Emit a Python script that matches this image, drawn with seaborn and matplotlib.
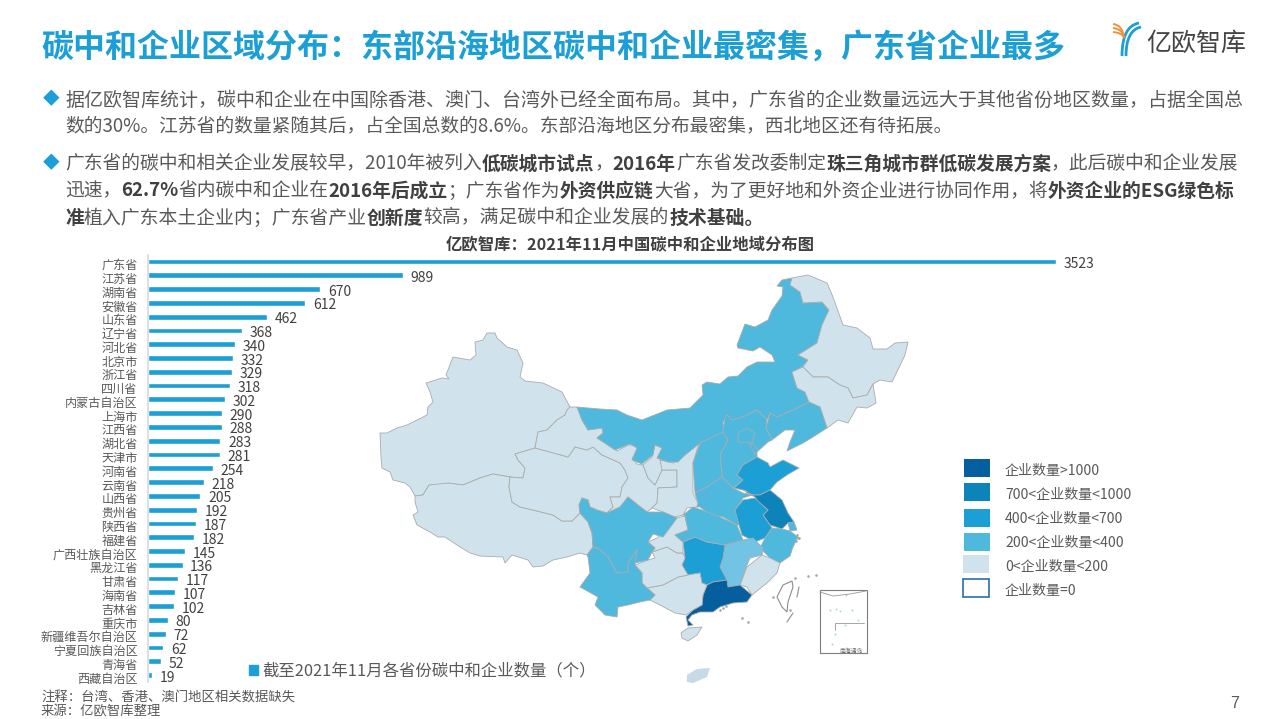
import seaborn as sns
import matplotlib.pyplot as plt
from matplotlib.font_manager import FontProperties
from matplotlib.patches import Patch, Polygon, Rectangle, PathPatch
from matplotlib.path import Path
from matplotlib.transforms import ScaledTranslation

regions = ["广东省", "江苏省", "湖南省", "安徽省", "山东省", "辽宁省", "河北省", "北京市", "浙江省", "四川省",
           "内蒙古自治区", "上海市", "江西省", "湖北省", "天津市", "河南省", "云南省", "山西省", "贵州省", "陕西省",
           "福建省", "广西壮族自治区", "黑龙江省", "甘肃省", "海南省", "吉林省", "重庆市", "新疆维吾尔自治区",
           "宁夏回族自治区", "青海省", "西藏自治区"]
counts = [3523, 989, 670, 612, 462, 368, 340, 332, 329, 318, 302, 290, 288, 283, 281, 254, 218, 205, 192, 187,
          182, 145, 136, 117, 107, 102, 80, 72, 62, 52, 19]

title = "碳中和企业区域分布：东部沿海地区碳中和企业最密集，广东省企业最多"
chart_title = "亿欧智库：2021年11月中国碳中和企业地域分布图"
series_name = "截至2021年11月各省份碳中和企业数量（个）"
notes = ["注释：台湾、香港、澳门地区相关数据缺失", "来源：亿欧智库整理"]

# (text, bold) runs, one list per line
body_lines = [
    [("据亿欧智库统计，碳中和企业在中国除香港、澳门、台湾外已经全面布局。其中，广东省的企业数量远远大于其他省份地区数量，占据全国总", False)],
    [("数的30%。江苏省的数量紧随其后，占全国总数的8.6%。东部沿海地区分布最密集，西北地区还有待拓展。", False)],
    [("广东省的碳中和相关企业发展较早，2010年被列入", False), ("低碳城市试点", True), ("，", False), ("2016年", True),
     ("广东省发改委制定", False), ("珠三角城市群低碳发展方案", True), ("，此后碳中和企业发展", False)],
    [("迅速，", False), ("62.7%", True), ("省内碳中和企业在", False), ("2016年后成立", True), ("；广东省作为", False),
     ("外资供应链", True), ("大省，为了更好地和外资企业进行协同作用，将", False), ("外资企业的ESG绿色标", True)],
    [("准", True), ("植入广东本土企业内；广东省产业", False), ("创新度", True), ("较高，满足碳中和企业发展的", False),
     ("技术基础。", True)],
]
body_sizes = [13.67, 13.5, 13.52, 13.5, 13.55]

legend_labels = ["企业数量>1000", "700<企业数量<1000", "400<企业数量<700", "200<企业数量<400", "0<企业数量<200", "企业数量=0"]
class_floor = [1000, 700, 400, 200, 0]
class_colors = ["#055F9E", "#0C84B9", "#1B9FD4", "#4FB9DD", "#D0E3EC"]

# province outlines (map units)
outlines = {
    "新疆维吾尔自治区": [(380, 433), (387, 433), (397, 428), (407, 425), (427, 415), (428, 407), (433, 402), (430, 392), (426, 383), (442, 378), (449, 379), (446, 375), (453, 357), (470, 360), (476, 355), (475, 342), (483, 340), (487, 333), (495, 333), (497, 338), (507, 347), (517, 350), (523, 363), (520, 377), (525, 381), (543, 383), (562, 392), (570, 407), (567, 410), (565, 415), (557, 420), (547, 430), (538, 432), (535, 448), (515, 454), (518, 460), (525, 468), (523, 478), (510, 477), (493, 474), (480, 478), (463, 485), (448, 483), (440, 486), (429, 485), (423, 495), (415, 496), (410, 487), (405, 483), (393, 480), (390, 472), (382, 468), (381, 457)],
    "西藏自治区": [(415, 496), (423, 495), (429, 485), (448, 483), (463, 485), (480, 478), (493, 474), (510, 477), (509, 487), (512, 502), (520, 507), (537, 511), (553, 515), (562, 521), (572, 521), (580, 513), (588, 522), (592, 533), (593, 547), (587, 555), (580, 553), (567, 557), (553, 560), (543, 566), (533, 567), (528, 560), (512, 555), (505, 563), (503, 557), (480, 556), (470, 553), (457, 545), (445, 537), (438, 537), (430, 532), (417, 525), (413, 515), (418, 512), (415, 502)],
    "青海省": [(515, 454), (535, 448), (550, 452), (568, 457), (575, 447), (587, 450), (593, 447), (602, 455), (620, 463), (625, 470), (628, 478), (622, 487), (620, 497), (610, 497), (613, 507), (607, 513), (597, 510), (590, 507), (588, 500), (582, 498), (579, 505), (580, 513), (572, 521), (562, 521), (553, 515), (537, 511), (520, 507), (512, 502), (509, 487), (510, 477), (523, 478), (525, 468), (518, 460)],
    "甘肃省": [(570, 407), (577, 407), (582, 420), (588, 430), (602, 428), (603, 433), (597, 438), (610, 445), (617, 451), (628, 445), (638, 445), (637, 452), (632, 458), (637, 464), (643, 465), (648, 478), (655, 485), (662, 470), (677, 470), (677, 487), (658, 488), (657, 503), (652, 508), (647, 512), (638, 505), (628, 497), (620, 507), (607, 513), (613, 507), (610, 497), (620, 497), (622, 487), (628, 478), (625, 470), (620, 463), (602, 455), (593, 447), (587, 450), (575, 447), (568, 457), (550, 452), (535, 448), (538, 432), (547, 430), (557, 420), (565, 415), (567, 410)],
    "宁夏回族自治区": [(643, 465), (652, 457), (655, 445), (662, 448), (660, 460), (667, 462), (667, 468), (662, 470), (655, 485), (648, 478)],
    "陕西省": [(660, 460), (673, 463), (678, 460), (685, 455), (699, 443), (693, 463), (693, 493), (698, 503), (697, 507), (687, 508), (683, 515), (675, 517), (663, 512), (652, 508), (657, 503), (658, 488), (677, 487), (677, 470), (662, 470)],
    "内蒙古自治区": [(577, 407), (600, 409), (617, 410), (627, 415), (642, 420), (667, 410), (690, 408), (703, 395), (702, 385), (707, 382), (720, 384), (728, 377), (738, 376), (747, 367), (757, 362), (775, 362), (772, 355), (760, 347), (753, 351), (738, 348), (737, 345), (745, 324), (755, 327), (768, 320), (772, 310), (782, 296), (783, 287), (777, 286), (782, 280), (792, 278), (790, 285), (800, 292), (803, 303), (822, 302), (829, 310), (822, 325), (817, 343), (798, 355), (808, 360), (802, 367), (792, 372), (797, 388), (805, 392), (809, 402), (793, 410), (777, 417), (770, 413), (767, 420), (757, 410), (743, 417), (732, 420), (727, 415), (723, 423), (725, 433), (700, 443), (685, 455), (678, 462), (668, 462), (657, 458), (662, 448), (655, 445), (653, 455), (642, 464), (632, 460), (637, 448), (630, 444), (615, 450), (600, 440), (597, 438), (603, 433), (602, 428), (588, 430), (582, 420)],
    "黑龙江省": [(792, 278), (808, 275), (827, 283), (833, 297), (843, 325), (857, 328), (870, 338), (873, 349), (887, 349), (895, 343), (908, 342), (905, 355), (892, 382), (880, 380), (873, 384), (867, 395), (853, 398), (848, 388), (840, 385), (828, 377), (813, 377), (803, 367), (808, 360), (798, 355), (817, 343), (822, 325), (829, 310), (822, 302), (803, 303), (800, 292), (790, 285)],
    "吉林省": [(803, 367), (813, 377), (828, 377), (840, 385), (848, 388), (853, 398), (867, 395), (873, 384), (876, 403), (867, 408), (857, 407), (848, 423), (838, 420), (827, 428), (820, 407), (809, 402), (805, 392), (797, 388), (792, 372)],
    "辽宁省": [(809, 402), (820, 407), (827, 428), (813, 437), (803, 443), (787, 451), (790, 442), (795, 430), (785, 430), (772, 440), (766, 428), (770, 413), (777, 417), (793, 410)],
    "河北省": [(725, 417), (727, 415), (732, 420), (743, 417), (757, 410), (767, 420), (766, 428), (772, 440), (768, 442), (757, 452), (757, 457), (743, 465), (737, 475), (743, 480), (733, 488), (722, 477), (720, 455), (728, 440), (723, 432)],
    "北京市": [(738, 433), (747, 428), (755, 433), (752, 443), (738, 442)],
    "天津市": [(752, 443), (758, 450), (755, 455), (750, 445)],
    "山西省": [(700, 443), (723, 432), (728, 440), (720, 455), (722, 477), (718, 483), (707, 487), (695, 493), (693, 463)],
    "河南省": [(695, 493), (707, 487), (722, 477), (733, 488), (743, 493), (752, 495), (743, 498), (740, 503), (735, 510), (742, 525), (737, 525), (723, 517), (710, 515), (700, 507), (697, 507), (698, 503)],
    "山东省": [(757, 457), (768, 463), (770, 467), (783, 460), (799, 468), (787, 475), (777, 482), (770, 490), (760, 495), (752, 495), (743, 490), (734, 488), (743, 480), (737, 475), (743, 465)],
    "江苏省": [(745, 490), (752, 495), (760, 495), (770, 490), (782, 500), (788, 513), (794, 522), (788, 523), (782, 529), (770, 525), (763, 515), (768, 510), (758, 502), (755, 497), (747, 493)],
    "上海市": [(788, 523), (794, 522), (797, 530), (790, 531)],
    "安徽省": [(743, 500), (755, 498), (759, 502), (768, 510), (763, 515), (770, 525), (772, 528), (765, 538), (755, 542), (742, 535), (739, 525), (735, 510)],
    "浙江省": [(772, 528), (782, 529), (790, 531), (798, 537), (793, 547), (790, 556), (780, 563), (770, 558), (760, 548), (765, 538)],
    "福建省": [(762, 555), (770, 558), (780, 563), (777, 573), (767, 583), (752, 595), (747, 587), (740, 585), (747, 567)],
    "江西省": [(725, 545), (743, 540), (753, 538), (763, 548), (762, 555), (750, 558), (745, 570), (740, 585), (728, 587), (727, 580), (720, 567), (723, 558)],
    "湖南省": [(683, 542), (695, 537), (707, 542), (725, 545), (723, 558), (720, 567), (727, 580), (713, 582), (707, 585), (702, 583), (700, 573), (688, 575), (682, 565), (685, 558)],
    "广东省": [(707, 585), (713, 582), (727, 580), (728, 587), (740, 585), (752, 595), (747, 602), (733, 603), (720, 607), (713, 612), (700, 612), (692, 615), (688, 620), (693, 625), (688, 626), (686, 617), (693, 610), (702, 605), (703, 595)],
    "广西壮族自治区": [(647, 588), (663, 585), (678, 577), (688, 575), (700, 573), (702, 583), (707, 585), (703, 595), (702, 605), (693, 610), (686, 615), (675, 613), (660, 605), (650, 600), (655, 595)],
    "贵州省": [(635, 565), (648, 560), (655, 558), (652, 552), (667, 547), (677, 553), (683, 553), (685, 558), (682, 565), (688, 575), (678, 577), (663, 585), (647, 588), (642, 583), (642, 573)],
    "重庆市": [(648, 542), (657, 538), (667, 528), (677, 518), (685, 516), (688, 530), (675, 535), (683, 542), (683, 553), (677, 553), (667, 547), (652, 552), (655, 548)],
    "湖北省": [(675, 535), (688, 530), (685, 516), (683, 515), (693, 507), (702, 510), (720, 517), (737, 525), (743, 540), (725, 545), (707, 542), (695, 537), (683, 542)],
    "四川省": [(582, 498), (588, 500), (590, 507), (597, 510), (607, 513), (620, 507), (628, 497), (638, 505), (647, 512), (663, 512), (677, 518), (672, 525), (663, 537), (653, 534), (648, 542), (655, 548), (652, 552), (648, 560), (635, 563), (637, 550), (628, 563), (628, 572), (617, 573), (608, 557), (598, 548), (593, 547), (592, 533), (588, 522), (580, 513), (579, 505)],
    "云南省": [(587, 555), (593, 547), (598, 548), (608, 557), (617, 573), (628, 572), (628, 563), (637, 550), (635, 565), (642, 573), (642, 583), (647, 588), (655, 595), (650, 600), (640, 602), (628, 605), (618, 607), (617, 617), (605, 615), (595, 605), (598, 597), (580, 587), (590, 573), (588, 557)],
    "海南省": [(681, 633), (688, 628), (702, 627), (697, 635), (688, 641), (682, 638)],
}
second_island = [(687, 675), (697, 669), (710, 668), (707, 677), (693, 683), (687, 682)]
taiwan = [(783, 585), (792, 581), (793, 587), (788, 602), (787, 612), (782, 607), (777, 597)]
small_islands_x = [797, 799, 796, 798, 723, 726, 720, 742, 748, 773, 790, 795, 808, 816]
small_islands_y = [535, 538, 541, 538, 608, 606, 610, 618, 622, 597, 610, 578, 576, 575]
sea_dashes = [[(799, 587), (797, 597)], [(787, 622), (793, 613)]]

# pixel size of the source slide, used by the overlay and for the bar panel
FIG_W, FIG_H = 1279, 719
BLUE = "#1B9FD4"
GREY = "#595959"
DARK = "#404040"

sns.set_theme(style="white")
plt.rcParams["font.family"] = ["Noto Sans CJK SC", "DejaVu Sans"]
plt.rcParams["axes.unicode_minus"] = False

fig = plt.figure(figsize=(FIG_W / 100, FIG_H / 100), dpi=100, facecolor="white")
page = fig.add_axes([0, 0, 1, 1])
page.set_xlim(0, FIG_W)
page.set_ylim(FIG_H, 0)
page.axis("off")

renderer = fig.canvas.get_renderer()


def run_width(text, size, bold):
    # measuring against a trailing glyph keeps the advance of end punctuation
    fp = FontProperties(family="Noto Sans CJK SC", size=size, weight="bold" if bold else "normal")
    full = renderer.get_text_width_height_descent(text + "中", fp, False)[0]
    tail = renderer.get_text_width_height_descent("中", fp, False)[0]
    return full - tail


def draw_runs(x, y, runs, size):
    for text, bold in runs:
        page.text(x, y, text, fontsize=size, fontweight="bold" if bold else "normal",
                  color=DARK if bold else GREY, va="center", ha="left")
        x += run_width(text, size, bold)


page.text(41, 48, title, fontsize=23, fontweight="bold", color=BLUE, va="center", ha="left")

for bullet_y in [100, 164]:
    page.text(51, bullet_y, "◆", fontsize=12, color=BLUE, va="center", ha="center")
for line, line_y, line_size in zip(body_lines, [100, 126, 164, 191, 218], body_sizes):
    draw_runs(65, line_y, line, line_size)

page.text(630, 244, chart_title, fontsize=11.75, fontweight="bold", color=DARK, va="center", ha="center")

# logo
stem = Path([(1126, 56), (1126, 30), (1141, 27)], [Path.MOVETO, Path.CURVE3, Path.CURVE3])
stem2 = Path([(1122, 56), (1122, 26), (1139, 23)], [Path.MOVETO, Path.CURVE3, Path.CURVE3])
for arc in [stem, stem2]:
    page.add_patch(PathPatch(arc, fc="none", ec=BLUE, lw=2))
for dy in [0, 4, 8]:
    arc = Path([(1113, 24 + dy), (1123, 25 + dy), (1124, 38)], [Path.MOVETO, Path.CURVE3, Path.CURVE3])
    page.add_patch(PathPatch(arc, fc="none", ec="#F0923B", lw=1.4))
page.text(1196, 44, "亿欧智库", fontsize=18, color="#444444", va="center", ha="center")


# map
def class_color(n):
    for floor, color in zip(class_floor, class_colors):
        if n >= floor:
            return color
    return "white"


count_by_region = dict(zip(regions, counts))
for name, outline in outlines.items():
    color = "#73C4E4" if name == "江西省" else class_color(count_by_region[name])
    page.add_patch(Polygon(outline, closed=True, fc=color, ec="#ABABAB", lw=0.6, joinstyle="round"))
page.add_patch(Polygon(second_island, closed=True, fc="#C6D9E6", ec="none"))
page.add_patch(Polygon(taiwan, closed=True, fc="white", ec="#8C8C8C", lw=0.8))
page.scatter(small_islands_x, small_islands_y, s=3.5, color="#A6A6A6", linewidths=0)
for dash in sea_dashes:
    page.plot(*zip(*dash), color="#999999", lw=0.9)

# south china sea inset
page.add_patch(Rectangle((819.5, 589.5), 47, 63, fc="white", ec="#7F7F7F", lw=0.8))
page.plot([820, 833, 850, 866], [592, 596, 594, 591], color="#999999", lw=0.6)
page.plot([835, 835, 864], [630, 623, 623], color="#999999", lw=0.6)
page.scatter([830, 836, 840, 846, 852, 858, 845, 835, 832], [610, 609, 611, 595, 610, 620, 625, 634, 644],
             s=2, color="#A9D6EA", linewidths=0)
page.text(851, 651, "南海诸岛", fontsize=4.2, color="#666666", va="center", ha="center")

# class legend
swatch_x = [964, 964, 964, 964, 963, 963]
swatch_y = [459, 483, 509, 533, 555, 579]
text_y = [471, 495, 519, 543, 567, 591]
for i, label in enumerate(legend_labels):
    if i < 5:
        page.add_patch(Rectangle((swatch_x[i], swatch_y[i]), 26, 18, fc=class_colors[i], ec="none"))
    else:
        page.add_patch(Rectangle((swatch_x[i], swatch_y[i]), 26, 18, fc="white", ec="#2F6EA5", lw=1.2))
    page.text(1005, text_y[i], label, fontsize=10.1, color=GREY, va="center", ha="left")

for note, note_y in zip(notes, [698, 711]):
    page.text(41, note_y, note, fontsize=9.6, color=GREY, va="center", ha="left")
page.text(1235, 704, "7", fontsize=11.5, color=GREY, va="center", ha="center", family="Liberation Sans")

# bar panel
ax = fig.add_axes([147.5 / FIG_W, 1 - 682 / FIG_H, 908.5 / FIG_W, (682 - 254.6) / FIG_H])
ax.patch.set_alpha(0)
sns.barplot(x=counts, y=regions, color=BLUE, saturation=1, width=0.42, ax=ax)
ax.set_xlim(0, 3523)
ax.set_ylim(30.5, -0.5)
ax.set_xlabel("")
ax.set_ylabel("")
ax.xaxis.set_visible(False)
sns.despine(ax=ax, left=False, bottom=True)
ax.spines["left"].set_color("#D9D9D9")
ax.spines["left"].set_linewidth(1.2)
ax.tick_params(axis="y", length=0, pad=7, labelsize=8.7, labelcolor=GREY)
# category labels sit a little under their bars in the source
label_shift = ScaledTranslation(0, -1.8 / 72, fig.dpi_scale_trans)
for label in ax.get_yticklabels():
    label.set_transform(label.get_transform() + label_shift)
for value_label in ax.bar_label(ax.containers[0], fontsize=10, color=DARK, padding=5.5, clip_on=False):
    value_label.xyann = (5.5, -1.8)
ax.legend(handles=[Patch(color=BLUE, label=series_name)], loc="center left", frameon=False,
          bbox_to_anchor=(249 / FIG_W, 1 - 671 / FIG_H), bbox_transform=fig.transFigure,
          fontsize=11.8, labelcolor=GREY, handlelength=0.55, handleheight=0.55, handletextpad=0.25,
          borderpad=0, borderaxespad=0)

fig.savefig("out.png", dpi=100)
